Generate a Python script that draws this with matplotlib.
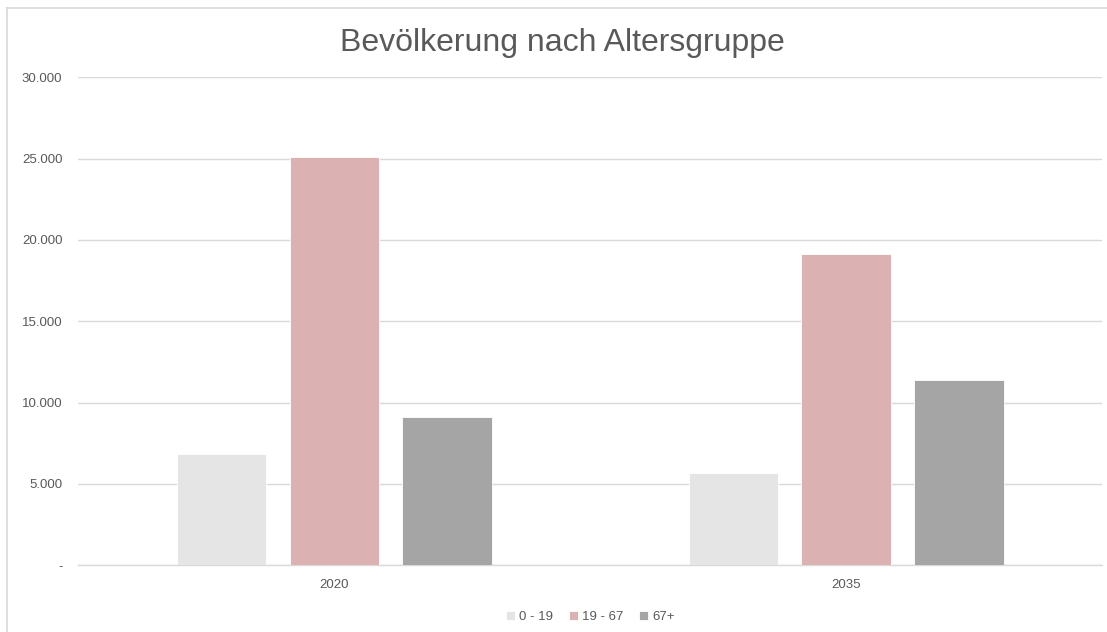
import matplotlib
matplotlib.use("Agg")
import matplotlib.pyplot as plt
from matplotlib.lines import Line2D
import numpy as np

categories = ["2020", "2035"]
series_names = ["0 - 19", "19 - 67", "67+"]
values_0_19 = [6820, 5650]
values_19_67 = [25120, 19140]
values_67 = [9100, 11390]
colors = ["#e5e5e5", "#dbb1b2", "#a5a5a5"]
yticks = [0, 5000, 10000, 15000, 20000, 25000, 30000]
ytick_labels = ["-", "5.000", "10.000", "15.000", "20.000", "25.000", "30.000"]

plt.rcParams['font.family'] = ['Liberation Sans', 'DejaVu Sans']

fig = plt.figure(figsize=(11.07, 6.32), dpi=100)
ax = fig.add_axes([0.0708, 0.1055, 0.9247, 0.7722])

x = np.arange(len(categories))
step = 0.2204
width = 0.175
all_vals = [values_0_19, values_19_67, values_67]
for i, (name, vals, c) in enumerate(zip(series_names, all_vals, colors)):
    ax.bar(x + (i - 1) * step, vals, width=width, color=c, label=name,
           edgecolor="white", linewidth=0.6, zorder=3)

ax.set_xlim(-0.5, 1.5)
ax.set_ylim(0, 30000)
ax.set_yticks(yticks)
ax.set_yticklabels(ytick_labels)
ax.set_xticks(x)
ax.set_xticklabels(categories)
ax.grid(axis="y", color="#d9d9d9", linewidth=1, zorder=0)
for s in ["top", "right", "left"]:
    ax.spines[s].set_visible(False)
ax.spines["bottom"].set_color("#d9d9d9")
ax.spines["bottom"].set_linewidth(1)
ax.tick_params(axis="both", length=0, colors="#595959", labelsize=9.5)
ax.tick_params(axis="y", pad=11.5)
ax.tick_params(axis="x", pad=10)

fig.suptitle("Bevölkerung nach Altersgruppe", x=0.508, y=0.956, fontsize=23,
             color="#595959")

leg = ax.legend(loc="lower center", bbox_to_anchor=(0.5, -0.142), ncol=3,
                frameon=False, fontsize=9.5, handlelength=0.7, handleheight=0.7,
                handletextpad=0.3, columnspacing=1.2, labelcolor="#595959")

W, H = 1107, 632
fig.lines.append(Line2D([7 / W, 1.0], [1 - 8 / H, 1 - 8 / H], transform=fig.transFigure,
                        color="#d9d9d9", linewidth=1.2))
fig.lines.append(Line2D([7 / W, 7 / W], [0.0, 1 - 8 / H], transform=fig.transFigure,
                        color="#d9d9d9", linewidth=1.2))

fig.savefig("out.png", dpi=100)
